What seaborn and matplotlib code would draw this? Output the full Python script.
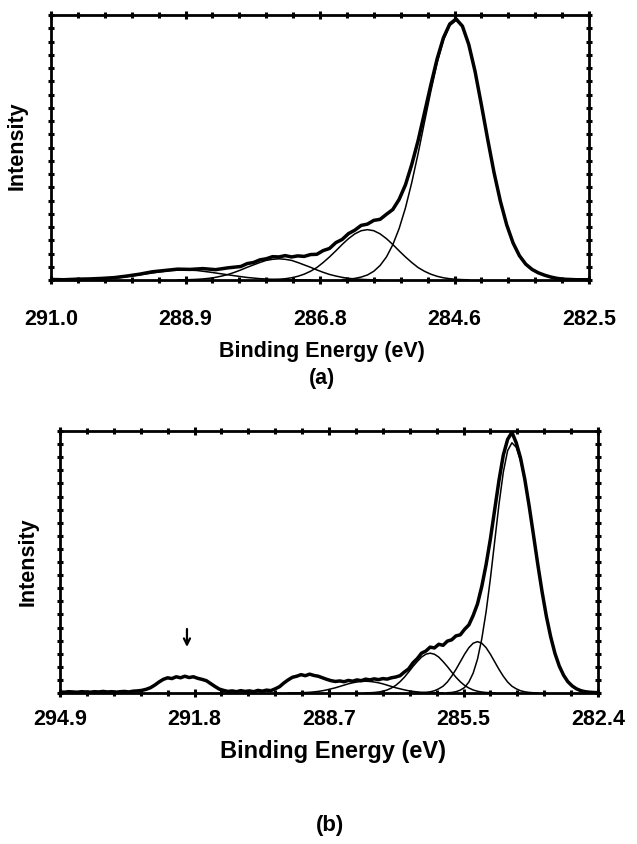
import numpy as np
import pandas as pd
import matplotlib
matplotlib.use("Agg")
import matplotlib.pyplot as plt
from matplotlib.ticker import FixedLocator, AutoMinorLocator, NullFormatter
import seaborn as sns

# ---------------- Panel (a) data ----------------
a_tick_labels = ["291.0", "288.9", "286.8", "284.6", "282.5"]
a_xlim = (291.0, 282.5)

a_data_x = [291.0, 290.8, 290.6, 290.4, 290.2, 290.0, 289.8, 289.6, 289.4, 289.2, 289.0,
            288.8, 288.6, 288.4, 288.2, 288.0, 287.9, 287.8, 287.7, 287.6, 287.5, 287.4,
            287.3, 287.2, 287.1, 287.0, 286.9, 286.8, 286.7, 286.6, 286.5, 286.4, 286.3,
            286.2, 286.1, 286.0, 285.9, 285.8, 285.7, 285.6, 285.5, 285.4, 285.3, 285.2,
            285.1, 285.0, 284.9, 284.8, 284.7, 284.6, 284.5, 284.4, 284.3, 284.2, 284.1,
            284.0, 283.9, 283.8, 283.7, 283.6, 283.5, 283.4, 283.3, 283.2, 283.1, 283.0,
            282.9, 282.8, 282.7, 282.6, 282.5]
a_data_y = [0.002, 0.001, 0.003, 0.004, 0.006, 0.009, 0.015, 0.022, 0.031, 0.036, 0.041,
            0.040, 0.043, 0.039, 0.046, 0.051, 0.062, 0.066, 0.076, 0.080, 0.088, 0.087,
            0.092, 0.087, 0.091, 0.089, 0.096, 0.097, 0.111, 0.119, 0.141, 0.153, 0.175,
            0.188, 0.206, 0.211, 0.225, 0.229, 0.248, 0.266, 0.304, 0.359, 0.436, 0.526,
            0.630, 0.735, 0.834, 0.914, 0.966, 0.985, 0.958, 0.889, 0.787, 0.661, 0.530,
            0.405, 0.297, 0.208, 0.140, 0.092, 0.060, 0.040, 0.027, 0.018, 0.011, 0.006,
            0.003, 0.002, 0.001, 0.001, 0.001]

a_main_x = [286.4, 286.3, 286.2, 286.1, 286.0, 285.9, 285.8, 285.7, 285.6, 285.5, 285.4,
            285.3, 285.2, 285.1, 285.0, 284.9, 284.8, 284.7, 284.6, 284.5, 284.4, 284.3,
            284.2, 284.1, 284.0, 283.9, 283.8, 283.7, 283.6, 283.5, 283.4, 283.3, 283.2,
            283.1, 283.0, 282.9, 282.8, 282.7]
a_main_y = [0.0015, 0.003, 0.006, 0.011, 0.019, 0.033, 0.055, 0.087, 0.133, 0.194, 0.272,
            0.368, 0.477, 0.595, 0.711, 0.819, 0.905, 0.960, 0.980, 0.956, 0.888, 0.785,
            0.660, 0.528, 0.403, 0.295, 0.206, 0.138, 0.090, 0.058, 0.038, 0.026, 0.017,
            0.010, 0.005, 0.002, 0.001, 0.000]

a_c2_x = [287.6, 287.5, 287.4, 287.3, 287.2, 287.1, 287.0, 286.9, 286.8, 286.7, 286.6,
          286.5, 286.4, 286.3, 286.2, 286.1, 286.0, 285.9, 285.8, 285.7, 285.6, 285.5,
          285.4, 285.3, 285.2, 285.1, 285.0, 284.9, 284.8, 284.7, 284.6, 284.5, 284.4]
a_c2_y = [0.0007, 0.0014, 0.0027, 0.0048, 0.0084, 0.014, 0.022, 0.033, 0.047, 0.066, 0.087,
          0.110, 0.134, 0.156, 0.174, 0.186, 0.190, 0.186, 0.174, 0.156, 0.134, 0.110,
          0.087, 0.066, 0.047, 0.033, 0.022, 0.014, 0.0084, 0.0048, 0.0027, 0.0014, 0.0007]

a_c3_x = [289.0, 288.9, 288.8, 288.7, 288.6, 288.5, 288.4, 288.3, 288.2, 288.1, 288.0,
          287.9, 287.8, 287.7, 287.6, 287.5, 287.4, 287.3, 287.2, 287.1, 287.0, 286.9,
          286.8, 286.7, 286.6, 286.5, 286.4, 286.3, 286.2, 286.1, 286.0, 285.9, 285.8]
a_c3_y = [0.0004, 0.0007, 0.0014, 0.0024, 0.0040, 0.0064, 0.010, 0.015, 0.021, 0.029, 0.038,
          0.048, 0.057, 0.066, 0.074, 0.078, 0.080, 0.078, 0.074, 0.066, 0.057, 0.048,
          0.038, 0.029, 0.021, 0.015, 0.010, 0.0064, 0.0040, 0.0024, 0.0014, 0.0007, 0.0004]

a_c4_x = [290.9, 290.7, 290.5, 290.3, 290.1, 289.9, 289.7, 289.5, 289.3, 289.1, 288.9,
          288.7, 288.5, 288.3, 288.1, 287.9, 287.7, 287.5, 287.3, 287.1, 286.9]
a_c4_y = [0.0001, 0.0004, 0.0011, 0.0025, 0.0051, 0.0095, 0.016, 0.023, 0.030, 0.036, 0.038,
          0.036, 0.030, 0.023, 0.016, 0.0095, 0.0051, 0.0025, 0.0011, 0.0004, 0.0001]

# ---------------- Panel (b) data ----------------
b_tick_labels = ["294.9", "291.8", "288.7", "285.5", "282.4"]
b_xlim = (294.9, 282.4)
b_arrow_x = 291.95

b_data_x = [294.9, 294.8, 294.7, 294.6, 294.5, 294.4, 294.3, 294.2, 294.1, 294.0, 293.9,
            293.8, 293.7, 293.6, 293.5, 293.4, 293.3, 293.2, 293.1, 293.0, 292.9, 292.8,
            292.7, 292.6, 292.5, 292.4, 292.3, 292.2, 292.1, 292.0, 291.9, 291.8, 291.7,
            291.6, 291.5, 291.4, 291.3, 291.2, 291.1, 291.0, 290.9, 290.8, 290.7, 290.6,
            290.5, 290.4, 290.3, 290.2, 290.1, 290.0, 289.9, 289.8, 289.7, 289.6, 289.5,
            289.4, 289.3, 289.2, 289.1, 289.0, 288.9, 288.8, 288.7, 288.6, 288.5, 288.4,
            288.3, 288.2, 288.1, 288.0, 287.9, 287.8, 287.7, 287.6, 287.5, 287.4, 287.3,
            287.2, 287.1, 287.0, 286.9, 286.8, 286.7, 286.6, 286.5, 286.4, 286.3, 286.2,
            286.1, 286.0, 285.9, 285.8, 285.7, 285.6, 285.5, 285.4, 285.3, 285.2, 285.1,
            285.0, 284.9, 284.8, 284.7, 284.6, 284.5, 284.4, 284.3, 284.2, 284.1, 284.0,
            283.9, 283.8, 283.7, 283.6, 283.5, 283.4, 283.3, 283.2, 283.1, 283.0, 282.9,
            282.8, 282.7, 282.6, 282.5, 282.4]
b_data_y = [0.004, 0.003, 0.005, 0.004, 0.003, 0.005, 0.004, 0.003, 0.005, 0.004, 0.006,
            0.004, 0.005, 0.003, 0.005, 0.006, 0.004, 0.007, 0.008, 0.010, 0.014, 0.020,
            0.030, 0.042, 0.052, 0.058, 0.055, 0.062, 0.058, 0.064, 0.059, 0.062, 0.056,
            0.052, 0.047, 0.036, 0.025, 0.015, 0.010, 0.006, 0.008, 0.005, 0.009, 0.006,
            0.008, 0.005, 0.010, 0.007, 0.011, 0.009, 0.016, 0.024, 0.038, 0.050, 0.060,
            0.064, 0.070, 0.066, 0.072, 0.067, 0.064, 0.058, 0.052, 0.047, 0.044, 0.046,
            0.043, 0.048, 0.045, 0.050, 0.047, 0.053, 0.050, 0.054, 0.051, 0.055, 0.053,
            0.058, 0.061, 0.066, 0.080, 0.092, 0.115, 0.131, 0.152, 0.160, 0.175, 0.172,
            0.186, 0.182, 0.198, 0.203, 0.218, 0.222, 0.243, 0.260, 0.296, 0.340, 0.407,
            0.490, 0.588, 0.700, 0.812, 0.908, 0.968, 0.995, 0.955, 0.897, 0.815, 0.714,
            0.604, 0.492, 0.387, 0.293, 0.215, 0.151, 0.103, 0.068, 0.043, 0.027, 0.016,
            0.009, 0.005, 0.003, 0.002, 0.001]

b_main_x = [285.9, 285.8, 285.7, 285.6, 285.5, 285.4, 285.3, 285.2, 285.1, 285.0, 284.9,
            284.8, 284.7, 284.6, 284.5, 284.4, 284.3, 284.2, 284.1, 284.0, 283.9, 283.8,
            283.7, 283.6, 283.5, 283.4, 283.3, 283.2, 283.1, 283.0, 282.9, 282.8, 282.7,
            282.6, 282.5, 282.4]
b_main_y = [0.001, 0.002, 0.005, 0.011, 0.021, 0.042, 0.076, 0.129, 0.207, 0.310, 0.437,
            0.579, 0.721, 0.843, 0.925, 0.955, 0.938, 0.887, 0.809, 0.711, 0.602, 0.491,
            0.386, 0.292, 0.214, 0.150, 0.102, 0.067, 0.042, 0.026, 0.015, 0.008, 0.005,
            0.002, 0.001, 0.000]

b_cA_x = [286.6, 286.5, 286.4, 286.3, 286.2, 286.1, 286.0, 285.9, 285.8, 285.7, 285.6,
          285.5, 285.4, 285.3, 285.2, 285.1, 285.0, 284.9, 284.8, 284.7, 284.6, 284.5,
          284.4, 284.3, 284.2, 284.1, 284.0, 283.9, 283.8]
b_cA_y = [0.0004, 0.0010, 0.0022, 0.0045, 0.0086, 0.016, 0.026, 0.042, 0.064, 0.090, 0.119,
          0.148, 0.173, 0.190, 0.196, 0.190, 0.173, 0.148, 0.119, 0.090, 0.064, 0.042,
          0.026, 0.016, 0.0086, 0.0045, 0.0022, 0.0010, 0.0004]

b_cB_x = [287.8, 287.7, 287.6, 287.5, 287.4, 287.3, 287.2, 287.1, 287.0, 286.9, 286.8,
          286.7, 286.6, 286.5, 286.4, 286.3, 286.2, 286.1, 286.0, 285.9, 285.8, 285.7,
          285.6, 285.5, 285.4, 285.3, 285.2, 285.1, 285.0, 284.9, 284.8]
b_cB_y = [0.0005, 0.0010, 0.0019, 0.0037, 0.0067, 0.0115, 0.019, 0.029, 0.043, 0.060, 0.080,
          0.101, 0.120, 0.137, 0.148, 0.152, 0.148, 0.137, 0.120, 0.101, 0.080, 0.060,
          0.043, 0.029, 0.019, 0.0115, 0.0067, 0.0037, 0.0019, 0.0010, 0.0005]

b_cC_x = [289.6, 289.5, 289.4, 289.3, 289.2, 289.1, 289.0, 288.9, 288.8, 288.7, 288.6,
          288.5, 288.4, 288.3, 288.2, 288.1, 288.0, 287.9, 287.8, 287.7, 287.6, 287.5,
          287.4, 287.3, 287.2, 287.1, 287.0, 286.9, 286.8, 286.7, 286.6, 286.5, 286.4,
          286.3, 286.2, 286.1, 286.0]
b_cC_y = [0.0002, 0.0004, 0.0007, 0.0011, 0.0018, 0.0027, 0.0042, 0.0061, 0.0086, 0.012, 0.016,
          0.020, 0.025, 0.030, 0.035, 0.039, 0.042, 0.044, 0.045, 0.044, 0.042, 0.039,
          0.035, 0.030, 0.025, 0.020, 0.016, 0.012, 0.0086, 0.0061, 0.0042, 0.0027, 0.0018,
          0.0011, 0.0007, 0.0004, 0.0002]

# ---------------- styling ----------------
sns.set_style("white")
plt.rcParams["font.family"] = ["Liberation Sans", "DejaVu Sans"]
plt.rcParams["font.weight"] = "bold"
plt.rcParams["text.color"] = "black"
plt.rcParams["axes.labelcolor"] = "black"
plt.rcParams["xtick.color"] = "black"
plt.rcParams["ytick.color"] = "black"

W, H = 637, 845
fig = plt.figure(figsize=(W / 100, H / 100), dpi=100)
fig.patch.set_facecolor("white")


def box(l, t, r, b):
    return [l / W, 1 - b / H, (r - l) / W, (b - t) / H]


def draw_panel(ax, xlim, tick_labels, data, comps, pad):
    for cx, cy in comps:
        sns.lineplot(x=cx, y=cy, ax=ax, color="black", lw=1.1, estimator=None, sort=False)
    sns.lineplot(x=data[0], y=data[1], ax=ax, color="black", lw=2.5, estimator=None, sort=False)
    ax.set_xlim(*xlim)
    ax.set_ylim(0, 1.0)
    majors = np.linspace(xlim[0], xlim[1], len(tick_labels))
    ax.xaxis.set_major_locator(FixedLocator(majors))
    ax.set_xticklabels(tick_labels, fontsize=15.5, fontweight="bold", color="black")
    ax.xaxis.set_minor_locator(AutoMinorLocator(5))
    ax.yaxis.set_major_locator(FixedLocator(np.linspace(0, 1, 21)))
    ax.yaxis.set_major_formatter(NullFormatter())
    ax.tick_params(axis="x", which="major", direction="inout", length=6, width=2.2,
                   top=True, bottom=True, pad=pad, color="black", labelcolor="black")
    ax.tick_params(axis="x", which="minor", direction="inout", length=4, width=2.2,
                   top=True, bottom=True, color="black")
    ax.tick_params(axis="y", which="major", direction="inout", length=4, width=2.2,
                   left=True, right=True, color="black")
    for s in ax.spines.values():
        s.set_visible(True)
        s.set_linewidth(2.0)
        s.set_color("black")
    ax.set_xlabel("")
    ax.set_ylabel("")
    ax.set_facecolor("white")


ax_a = fig.add_axes(box(51, 16, 589, 281))
draw_panel(ax_a, a_xlim, a_tick_labels, (a_data_x, a_data_y),
           [(a_main_x, a_main_y), (a_c2_x, a_c2_y), (a_c3_x, a_c3_y), (a_c4_x, a_c4_y)],
           pad=17)

ax_b = fig.add_axes(box(60, 432, 598, 694))
draw_panel(ax_b, b_xlim, b_tick_labels, (b_data_x, b_data_y),
           [(b_main_x, b_main_y), (b_cA_x, b_cA_y), (b_cB_x, b_cB_y), (b_cC_x, b_cC_y)],
           pad=7.5)
ax_b.annotate("", xy=(b_arrow_x, 0.165), xytext=(b_arrow_x, 0.255),
              arrowprops=dict(arrowstyle="->", lw=1.6, color="black", mutation_scale=11))

# labels
fig.text(17 / W, 1 - 146 / H, "Intensity", rotation=90, ha="center", va="center",
         fontsize=15.5, fontweight="bold")
fig.text(28 / W, 1 - 562 / H, "Intensity", rotation=90, ha="center", va="center",
         fontsize=15.5, fontweight="bold")
fig.text(322 / W, 1 - 352 / H, "Binding Energy (eV)", ha="center", va="center",
         fontsize=15.5, fontweight="bold")
fig.text(322 / W, 1 - 379 / H, "(a)", ha="center", va="center",
         fontsize=15.5, fontweight="bold")
fig.text(333 / W, 1 - 752 / H, "Binding Energy (eV)", ha="center", va="center",
         fontsize=17, fontweight="bold")
fig.text(330 / W, 1 - 826 / H, "(b)", ha="center", va="center",
         fontsize=16, fontweight="bold")

fig.savefig("out.png", dpi=100, facecolor="white")
